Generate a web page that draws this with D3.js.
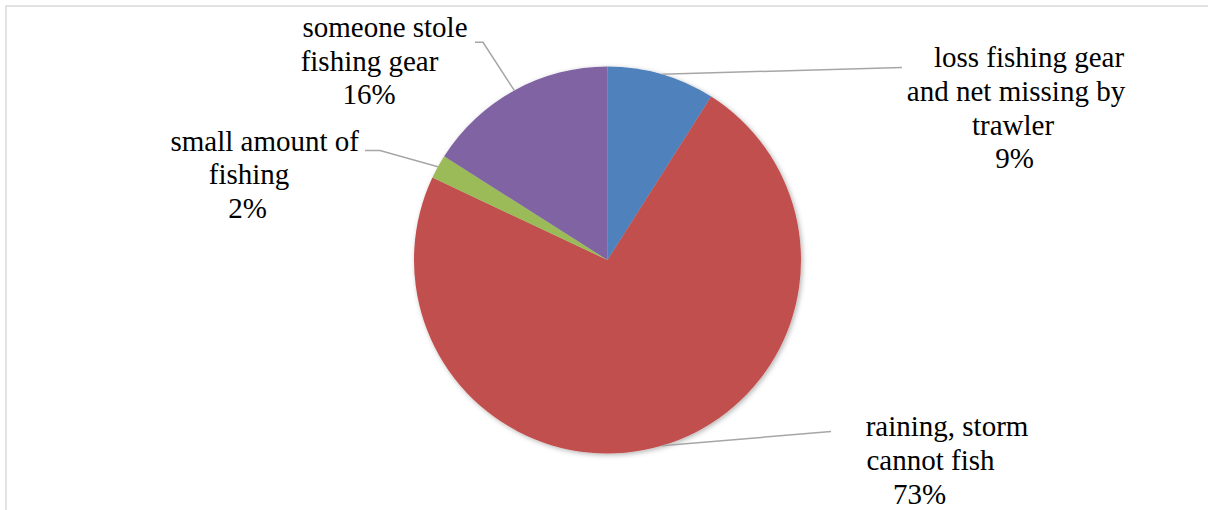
<!DOCTYPE html>
<html>
<head>
<meta charset="utf-8">
<script src="https://cdn.jsdelivr.net/npm/d3@7"></script>
<style>
  html, body { margin: 0; padding: 0; background: #fff; }
  svg { display: block; }
  .lbl { font-family: "Times New Roman", "Liberation Serif", Tinos, serif; }
</style>
</head>
<body>
<svg id="chart" width="1208" height="510"></svg>
<script>
// Reasons fishers could not fish (share of responses, %)
const categories = [
  "loss fishing gear and net missing by trawler",
  "raining, storm cannot fish",
  "small amount of fishing",
  "someone stole fishing gear"
];
const shares = [9, 73, 2, 16];
const sliceColors = ["#4F81BD", "#C0504D", "#9BBB59", "#8064A2"];

// How each category name wraps inside its label box
const wrappedNames = [
  ["loss fishing gear", "and net missing by", "trawler"],
  ["raining, storm", "cannot fish"],
  ["small amount of", "fishing"],
  ["someone stole", "fishing gear"]
];

const W = 1208, H = 510;
const cx = 607.5, cy = 260, R = 193.5;
const lineGap = 33.8;

// Label placement: per-line centre x, first baseline, leader-line bend points
const labelLayout = [
  { xs: [1029, 1016, 1013, 1014.5], y0: 67,    leader: [[902, 67.5]] },
  { xs: [947, 930.5, 919.5],        y0: 436,   leader: [[831, 431.5]] },
  { xs: [264.7, 249, 247.5],        y0: 150.5, leader: [[380, 150.5], [365, 150.5]] },
  { xs: [385, 369.5, 369],          y0: 36.7,  leader: [[483, 42.3], [475, 42.3]] }
];

const svg = d3.select("#chart");

// chart frame
svg.append("rect")
  .attr("x", 6).attr("y", 6)
  .attr("width", W + 100).attr("height", H + 100)
  .attr("fill", "#fff")
  .attr("stroke", "#d9d9d9")
  .attr("stroke-width", 1.5);

const defs = svg.append("defs");
const shadow = defs.append("filter").attr("id", "pieShadow")
  .attr("x", "-10%").attr("y", "-10%").attr("width", "120%").attr("height", "120%");
shadow.append("feDropShadow")
  .attr("dx", 1.5).attr("dy", 1.5).attr("stdDeviation", 2.5)
  .attr("flood-color", "#000").attr("flood-opacity", 0.3);

const pie = d3.pie().sort(null).value(d => d)(shares);
const arc = d3.arc().innerRadius(0).outerRadius(R);

const pieG = svg.append("g")
  .attr("transform", `translate(${cx},${cy})`)
  .attr("filter", "url(#pieShadow)");

pieG.selectAll("path")
  .data(pie)
  .join("path")
  .attr("d", arc)
  .attr("fill", (d, i) => sliceColors[i]);

// leader lines from each slice's outer arc midpoint
const line = d3.line();
pie.forEach((d, i) => {
  const mid = (d.startAngle + d.endAngle) / 2;
  const start = [cx + R * Math.sin(mid), cy - R * Math.cos(mid)];
  svg.append("path")
    .attr("d", line([start, ...labelLayout[i].leader]))
    .attr("fill", "none")
    .attr("stroke", "#a6a6a6")
    .attr("stroke-width", 1.5);
});

// data labels: category name lines followed by the percentage
categories.forEach((name, i) => {
  const lines = [...wrappedNames[i], `${shares[i]}%`];
  const lay = labelLayout[i];
  const t = svg.append("text")
    .attr("class", "lbl")
    .attr("text-anchor", "middle")
    .attr("font-size", 29)
    .attr("fill", "#000");
  lines.forEach((s, k) => {
    t.append("tspan")
      .attr("x", lay.xs[k])
      .attr("y", lay.y0 + k * lineGap)
      .text(s);
  });
});
</script>
</body>
</html>
